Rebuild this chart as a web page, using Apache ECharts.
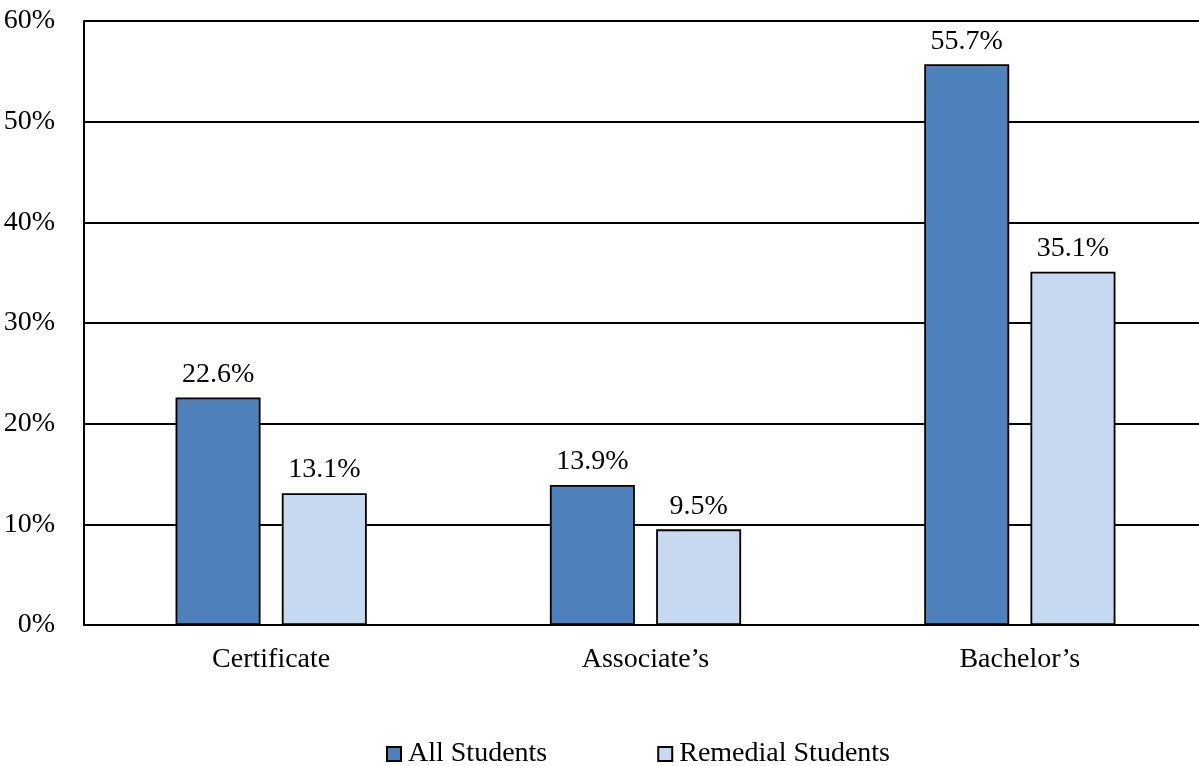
<!DOCTYPE html>
<html>
<head>
<meta charset="utf-8">
<script src="https://cdn.jsdelivr.net/npm/echarts@6/dist/echarts.min.js"></script>
<style>
  html, body { margin: 0; padding: 0; background: #fff; overflow: hidden; }
  /* the plot area runs slightly past the right edge of the page */
  #chart { width: 1207px; height: 766px; }
</style>
</head>
<body>
<div id="chart"></div>
<script>
// Degree categories and completion rates (%)
const categories = ['Certificate', 'Associate\u2019s', 'Bachelor\u2019s'];
const allStudents = [22.6, 13.9, 55.7];
const remedialStudents = [13.1, 9.5, 35.1];
const seriesNames = ['All Students', 'Remedial Students'];

const FONT = '"Liberation Serif", "Times New Roman", serif';
const FS = 28;

const chart = echarts.init(document.getElementById('chart'), null, { renderer: 'canvas' });

const labelStyle = {
  show: true,
  position: 'top',
  distance: 9,
  color: '#000',
  fontFamily: FONT,
  fontSize: FS,
  formatter: p => p.value.toFixed(1) + '%'
};

chart.setOption({
  animation: false,
  backgroundColor: '#fff',
  grid: { left: 84, right: 0, top: 21, height: 604, containLabel: false },
  legend: {
    top: 735,
    left: 381,
    itemWidth: 14,
    itemHeight: 14,
    itemGap: 110,
    icon: 'rect',
    textStyle: { fontFamily: FONT, fontSize: FS, color: '#000', padding: [0, 0, 0, 2] },
    data: seriesNames
  },
  xAxis: {
    type: 'category',
    data: categories,
    axisLine: { show: true, lineStyle: { color: '#000', width: 2 } },
    axisTick: { show: false },
    axisLabel: { color: '#000', fontFamily: FONT, fontSize: FS, margin: 21 }
  },
  yAxis: {
    type: 'value',
    min: 0,
    max: 60,
    interval: 10,
    axisLine: { show: true, lineStyle: { color: '#000', width: 2 } },
    axisTick: { show: false },
    axisLabel: { color: '#000', fontFamily: FONT, fontSize: FS, margin: 29, formatter: '{value}%' },
    splitLine: { show: true, lineStyle: { color: '#000', width: 1.8 } }
  },
  series: [
    {
      name: seriesNames[0],
      type: 'bar',
      data: allStudents,
      barWidth: 85,
      barGap: '25%',
      itemStyle: { color: '#4F81BD', borderColor: '#000', borderWidth: 1.8 },
      label: labelStyle
    },
    {
      name: seriesNames[1],
      type: 'bar',
      data: remedialStudents,
      barWidth: 85,
      itemStyle: { color: '#C6D9F1', borderColor: '#000', borderWidth: 1.8 },
      label: labelStyle
    }
  ]
});
</script>
</body>
</html>
